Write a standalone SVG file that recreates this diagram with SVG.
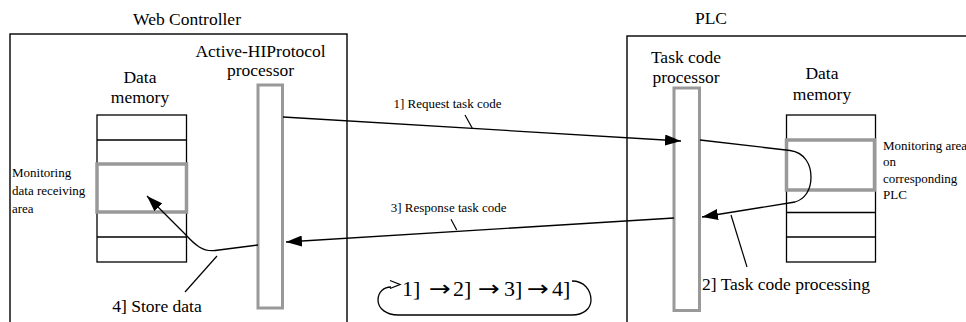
<svg xmlns="http://www.w3.org/2000/svg" width="966" height="322" viewBox="0 0 966 322" font-family="'Liberation Serif', 'Times New Roman', 'DejaVu Serif', serif">
<style>
text, tspan.t{font-family:'Liberation Serif','Times New Roman','DejaVu Serif',serif;fill:#000}
.big{font-size:17.5px}
.small{font-size:13px}
.mid{text-anchor:middle}
.frame{fill:none;stroke:#000;stroke-width:1.4}
.bar{fill:#fff;stroke:#999;stroke-width:3}
.cell{fill:#fff;stroke:#000;stroke-width:1.3}
.area{fill:#fff;stroke:#999;stroke-width:3.5}
.conn{fill:none;stroke:#000;stroke-width:1.3}
.lead{fill:none;stroke:#000;stroke-width:1.2}
.arw{font-family:'DejaVu Sans',sans-serif}
</style>
<defs>
<marker id="ah" markerUnits="userSpaceOnUse" markerWidth="16" markerHeight="11" refX="16" refY="5.5" orient="auto" viewBox="0 0 16 11">
<path d="M0,0 L16,5.5 L0,11 z" fill="#000"/>
</marker>
</defs>
<rect width="966" height="322" fill="#fff"/>

<g id="web-controller">
<rect class="frame" x="10" y="34" width="337" height="300"/>
<text class="big mid" x="187" y="25">Web Controller</text>
</g>

<g id="plc">
<rect class="frame" x="627" y="36" width="360" height="300"/>
<text class="big mid" x="711" y="24">PLC</text>
</g>

<g id="web-data-memory">
<text class="big mid" x="140" y="83">Data</text>
<text class="big mid" x="140" y="103">memory</text>
<rect class="cell" x="97" y="115" width="89.5" height="147"/>
<line class="cell" x1="97" y1="140" x2="186.5" y2="140"/>
<line class="cell" x1="97" y1="237" x2="186.5" y2="237"/>
<rect class="area" x="97" y="164" width="89.5" height="48"/>
</g>

<g id="web-monitoring-label">
<text class="small" x="12" y="177">Monitoring</text>
<text class="small" x="12" y="195">data receiving</text>
<text class="small" x="12" y="213">area</text>
</g>

<g id="web-processor">
<text class="big mid" x="260.5" y="57">Active-HIProtocol</text>
<text class="big mid" x="260.5" y="76">processor</text>
<rect class="bar" x="258" y="85" width="24.5" height="223"/>
</g>

<g id="plc-processor">
<text class="big mid" x="686" y="62.5">Task code</text>
<text class="big mid" x="686" y="82.5">processor</text>
<rect class="bar" x="674" y="88" width="25.5" height="222.5"/>
</g>

<g id="plc-data-memory">
<text class="big mid" x="822" y="79">Data</text>
<text class="big mid" x="822" y="99.5">memory</text>
<rect class="cell" x="786.5" y="115" width="89" height="147"/>
<line class="cell" x1="786.5" y1="212.5" x2="875.5" y2="212.5"/>
<line class="cell" x1="786.5" y1="237" x2="875.5" y2="237"/>
<rect class="area" x="786.5" y="140" width="88" height="50"/>
</g>

<g id="plc-monitoring-label">
<text class="small" x="883" y="149.5">Monitoring area</text>
<text class="small" x="883" y="166">on</text>
<text class="small" x="883" y="182.5">corresponding</text>
<text class="small" x="883" y="199">PLC</text>
</g>

<g id="connectors">
<line class="conn" x1="283" y1="117" x2="681" y2="141" marker-end="url(#ah)"/>
<line class="conn" x1="674" y1="218" x2="286" y2="242" marker-end="url(#ah)"/>
<path class="conn" d="M700 140 L790 150.5 C805 152.5 811 165 811 177 C811 190 805 199 795 202 L702 217" marker-end="url(#ah)"/>
<path class="conn" d="M258 245 L215 250.5 C203 252 195 245 185 234 L147 196" marker-end="url(#ah)"/>
<line class="lead" x1="465" y1="115" x2="472.3" y2="128.3"/>
<line class="lead" x1="451" y1="219.3" x2="456.7" y2="230"/>
<line class="lead" x1="731" y1="215" x2="747" y2="267"/>
<line class="lead" x1="217" y1="256" x2="185" y2="292"/>
<path class="conn" d="M572 281 C584 281 591 290 591 300 C591 309 583 315 572 315 L398 315 C387 315 378 309 378 300 C378 292 384 287 391 287"/>
<path class="conn" d="M390 280.5 L400 284.5 L390 288.5"/>
</g>

<g id="labels">
<text class="small mid" x="447.5" y="108">1] Request task code</text>
<text class="small mid" x="448.7" y="211.5">3] Response task code</text>
<text class="big mid" x="157" y="311.5">4] Store data</text>
<text class="big" x="702" y="289.5">2] Task code processing</text>
</g>

<g id="cycle">
<text style="font-size:22px" y="296"><tspan x="402">1]</tspan><tspan x="429" class="arw" textLength="22" lengthAdjust="spacingAndGlyphs">→</tspan><tspan x="453">2]</tspan><tspan x="478" class="arw" textLength="22" lengthAdjust="spacingAndGlyphs">→</tspan><tspan x="504">3]</tspan><tspan x="527" class="arw" textLength="22" lengthAdjust="spacingAndGlyphs">→</tspan><tspan x="552">4]</tspan></text>
</g>
</svg>
